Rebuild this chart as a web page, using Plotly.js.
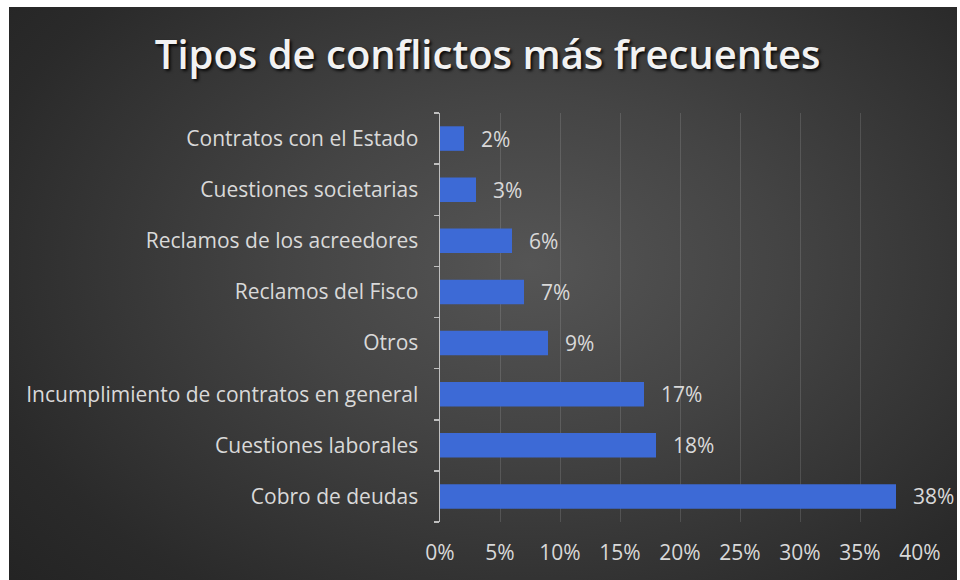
<!DOCTYPE html>
<html>
<head>
<meta charset="utf-8">
<script src="https://cdn.plot.ly/plotly-3.0.1.min.js"></script>
<style>
  html, body { margin: 0; padding: 0; background: #ffffff; width: 960px; height: 580px; overflow: hidden; }
  #bg { position: absolute; left: 9px; top: 7px; width: 948px; height: 573px;
        background: radial-gradient(ellipse 75% 85% at 55% 45%, #555555 0%, #444444 35%, #2a2a2a 80%, #232323 100%); }
  #chart { position: absolute; left: 0; top: 0; width: 960px; height: 580px; }
</style>
</head>
<body>
<div id="bg"></div>
<div id="chart"></div>
<script>
// Data (bottom to top)
const categories = [
  "Cobro de deudas",
  "Cuestiones laborales",
  "Incumplimiento de contratos en general",
  "Otros",
  "Reclamos del Fisco",
  "Reclamos de los acreedores",
  "Cuestiones societarias",
  "Contratos con el Estado"
];
const values = [38, 18, 17, 9, 7, 6, 3, 2];
const xTickValues = [0, 5, 10, 15, 20, 25, 30, 35, 40];
const xTickLabels = ["0%", "5%", "10%", "15%", "20%", "25%", "30%", "35%", "40%"];
const chartTitle = "Tipos de conflictos más frecuentes";

const labelFont = { family: "Open Sans, sans-serif", size: 21, color: "#d9d9d9" };

const trace = {
  type: "bar",
  orientation: "h",
  x: values,
  y: categories,
  marker: { color: "#3d6ad6", line: { width: 0 } },
  texttemplate: "\u2002\u2009%{x}%",
  textposition: "outside",
  constraintext: "none",
  cliponaxis: false,
  textfont: labelFont,
  hoverinfo: "none"
};

const layout = {
  width: 960,
  height: 580,
  paper_bgcolor: "rgba(0,0,0,0)",
  plot_bgcolor: "rgba(0,0,0,0)",
  margin: { l: 440, r: 40, t: 113, b: 58 },
  bargap: 0.52,
  showlegend: false,
  title: {
    text: chartTitle,
    x: 0.508, xanchor: "center",
    y: 0.905, yanchor: "middle",
    yref: "container",
    font: { family: "Open Sans, sans-serif", size: 40, weight: 600, color: "#f2f2f2",
            shadow: "2px 2px 3px rgba(0,0,0,0.85)" }
  },
  xaxis: {
    range: [0, 40],
    tickvals: xTickValues,
    ticktext: xTickLabels,
    showgrid: true,
    gridcolor: "rgba(255,255,255,0.13)",
    gridwidth: 1,
    zeroline: false,
    showline: false,
    ticks: "",
    ticklabelstandoff: 16,
    tickfont: labelFont,
    fixedrange: true
  },
  yaxis: {
    type: "category",
    categoryorder: "array",
    categoryarray: categories,
    showline: true,
    linecolor: "#bfbfbf",
    linewidth: 1.5,
    ticks: "outside",
    tickson: "boundaries",
    ticklen: 5,
    tickcolor: "#bfbfbf",
    tickwidth: 1.5,
    ticklabelstandoff: 16,
    showgrid: false,
    tickfont: labelFont,
    fixedrange: true
  }
};

Plotly.newPlot("chart", [trace], layout, { displayModeBar: false, staticPlot: true });
</script>
</body>
</html>
